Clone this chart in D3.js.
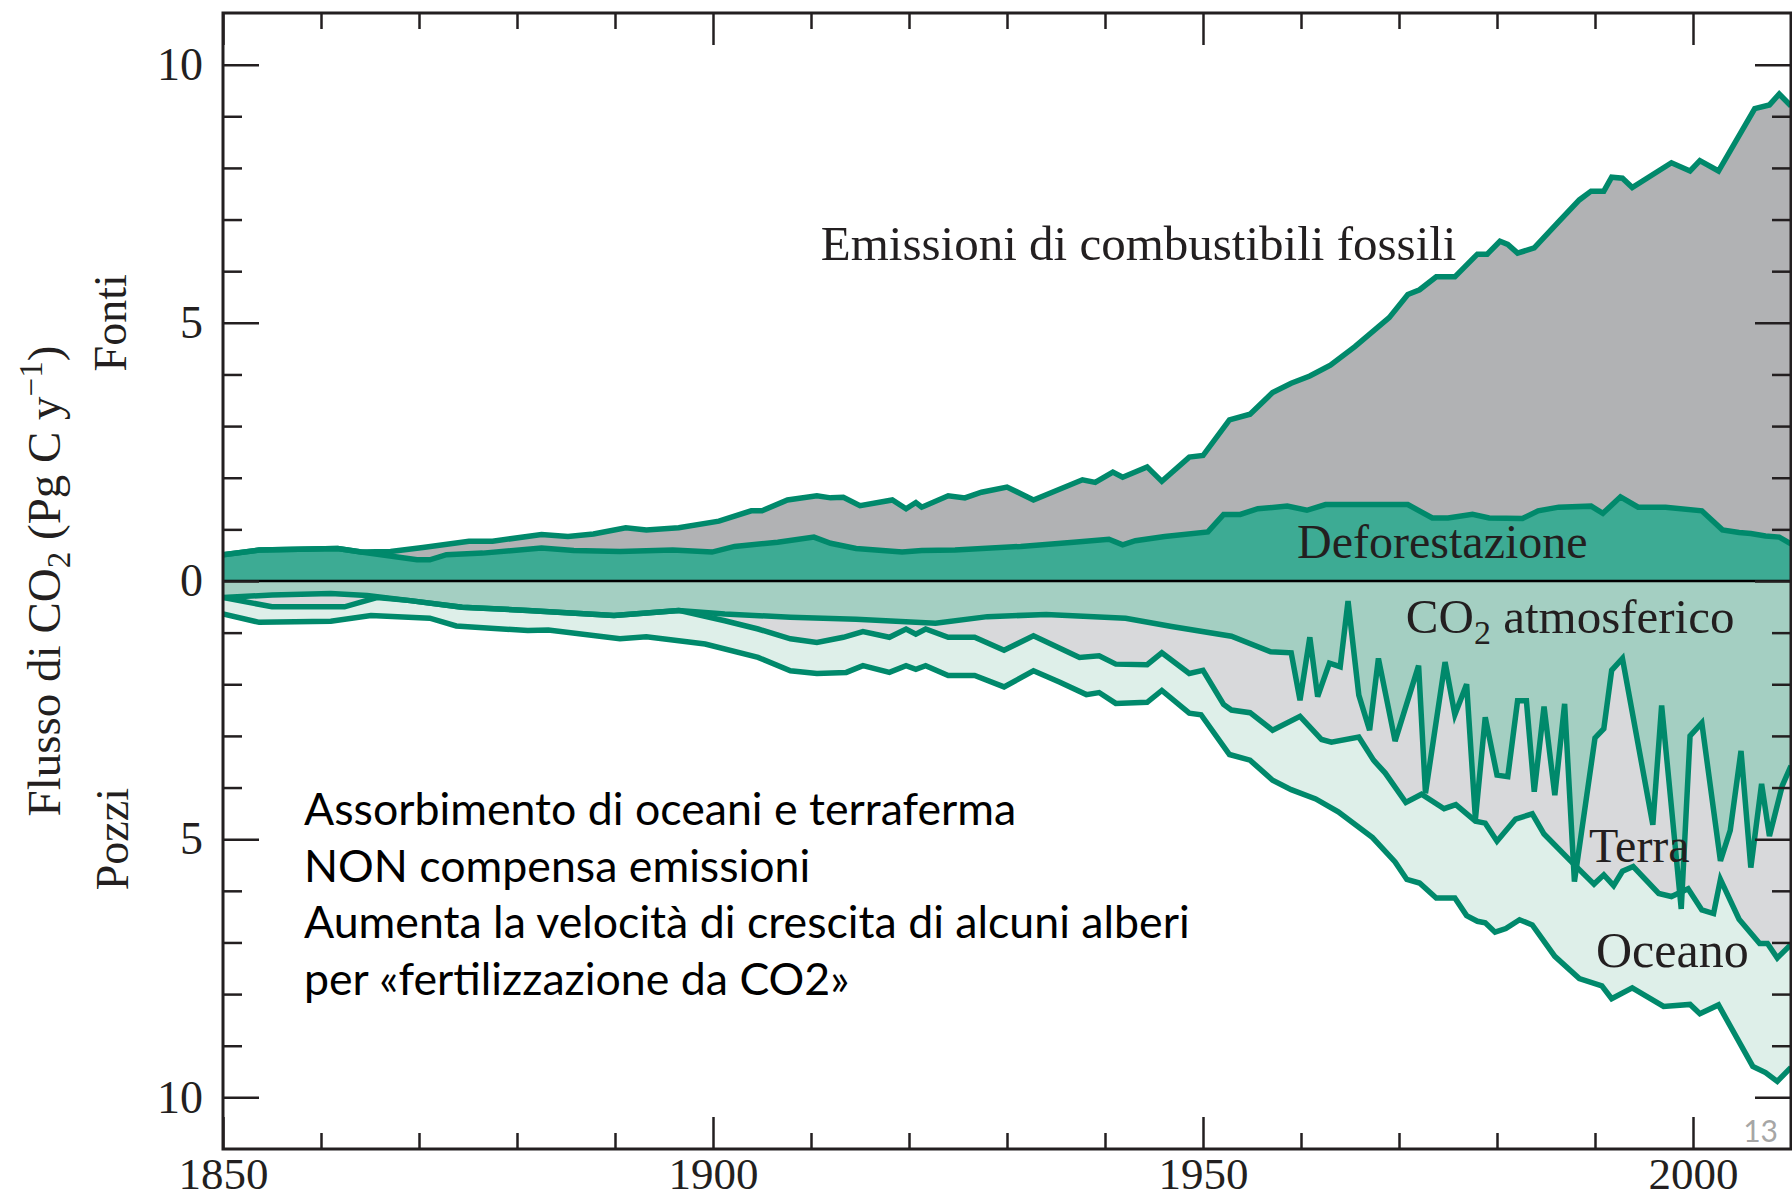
<!DOCTYPE html>
<html>
<head>
<meta charset="utf-8">
<script src="https://cdn.jsdelivr.net/npm/d3@7"></script>
<style>
    html, body { margin: 0; padding: 0; background: #fff; }
    svg { display: block; }
    .serif { font-family: "Liberation Serif", "Times New Roman", serif; fill: #231f20; }
    .sans { font-family: Lato, "Open Sans", sans-serif; fill: #000; }
</style>
</head>
<body>
<div id="chart"></div>
<script>
// [year, Pg C / y]; sinks are negative
var totalSources = [
    [1850, 0.51], [1853.7, 0.60], [1861.7, 0.63], [1864.1, 0.56], [1867.1, 0.57], [1870.4, 0.65],
    [1875.1, 0.77], [1877.5, 0.77], [1882.5, 0.90], [1885.2, 0.86], [1887.8, 0.91], [1891.1, 1.03],
    [1893.2, 0.99], [1896.5, 1.03], [1900.6, 1.16], [1903.9, 1.36], [1905, 1.36], [1907.6, 1.57],
    [1910.6, 1.65], [1912, 1.61], [1913.3, 1.62], [1915, 1.46], [1918.3, 1.57], [1919.7, 1.40],
    [1920.7, 1.52], [1921.3, 1.43], [1924, 1.65], [1925.7, 1.61], [1927.4, 1.72], [1930, 1.82],
    [1932.7, 1.57], [1937.7, 1.96], [1939, 1.91], [1940.8, 2.11], [1941.8, 2.01], [1944.3, 2.21],
    [1945.8, 1.93], [1948.6, 2.40], [1950, 2.43], [1952.7, 3.12], [1954.8, 3.23], [1957.1, 3.65],
    [1959, 3.83], [1960.9, 3.97], [1963, 4.18], [1965.5, 4.54], [1969, 5.10], [1970.9, 5.55],
    [1972.1, 5.64], [1973.8, 5.89], [1975.7, 5.89], [1978, 6.33], [1979, 6.33], [1980.3, 6.58],
    [1981.1, 6.52], [1982.1, 6.35], [1983.8, 6.45], [1986.3, 6.96], [1988.4, 7.38], [1989.6, 7.55],
    [1990.9, 7.55], [1991.7, 7.82], [1992.8, 7.80], [1993.8, 7.62], [1997.8, 8.10], [1999.7, 7.94],
    [2000.7, 8.14], [2002.6, 7.94], [2006.3, 9.15], [2007.8, 9.22], [2008.8, 9.43], [2010, 9.20]
];

var deforestation = [
    [1850, 0.51], [1853.7, 0.60], [1861.7, 0.63], [1864.1, 0.56], [1869.8, 0.41], [1871.1, 0.41],
    [1872.8, 0.51], [1876.5, 0.54], [1882.5, 0.64], [1885.8, 0.59], [1890.5, 0.57], [1895.9, 0.60],
    [1899.9, 0.56], [1902.2, 0.67], [1906.6, 0.75], [1910.3, 0.85], [1912, 0.73], [1914.6, 0.63],
    [1919.3, 0.56], [1921.3, 0.59], [1924.7, 0.60], [1931.4, 0.67], [1936.8, 0.75], [1940.4, 0.81],
    [1941.8, 0.70], [1943.1, 0.78], [1946.1, 0.86], [1950.5, 0.95], [1952.1, 1.29], [1953.8, 1.29],
    [1955.6, 1.40], [1958.6, 1.45], [1960.6, 1.37], [1962.5, 1.48], [1970.9, 1.48], [1973.4, 1.22],
    [1975, 1.22], [1977.5, 1.29], [1979.2, 1.22], [1982.6, 1.21], [1984.2, 1.36], [1986.3, 1.43],
    [1989.6, 1.45], [1990.8, 1.31], [1992.6, 1.63], [1994.4, 1.43], [1997.2, 1.43], [2000.9, 1.36],
    [2003, 0.99], [2004.7, 0.94], [2005.9, 0.92], [2007.4, 0.87], [2008.8, 0.85], [2010, 0.72]
];

var atmosphere = [
    [1850, -0.32], [1855, -0.27], [1861, -0.24], [1864.7, -0.28], [1869.1, -0.38], [1874.4, -0.51],
    [1881.1, -0.57], [1889.9, -0.67], [1896.5, -0.57], [1901.2, -0.64], [1907.9, -0.70], [1914.6, -0.74],
    [1922.7, -0.82], [1928, -0.69], [1934, -0.65], [1942.1, -0.72], [1946.8, -0.88], [1952.9, -1.07],
    [1956.9, -1.37], [1959, -1.39], [1959.9, -2.31], [1960.9, -1.09], [1961.7, -2.24], [1962.9, -1.59],
    [1964, -1.66], [1964.8, -0.39], [1965.9, -2.21], [1967, -2.89], [1967.9, -1.50], [1969.6, -3.10],
    [1972, -1.64], [1972.7, -4.11], [1974.7, -1.57], [1975.7, -2.59], [1976.9, -2.00], [1977.8, -4.61],
    [1978.8, -2.64], [1980, -3.76], [1981.1, -3.79], [1982.1, -2.32], [1983, -2.32], [1983.8, -4.08],
    [1984.8, -2.43], [1985.9, -4.15], [1986.9, -2.38], [1987.9, -5.82], [1990, -3.04], [1990.9, -2.86],
    [1991.7, -1.73], [1992.8, -1.50], [1995.9, -4.72], [1996.8, -2.41], [1998.8, -6.35], [1999.7, -3.00],
    [2000.9, -2.75], [2002.8, -5.42], [2003.8, -4.83], [2004.9, -3.29], [2005.9, -5.55], [2007, -3.93],
    [2007.8, -4.94], [2009.1, -3.97], [2010, -3.58]
];

// lower edge of the land band (atmosphere + land)
var landBoundary = [
    [1850, -0.32], [1855, -0.50], [1862.4, -0.50], [1865.7, -0.32], [1869.1, -0.38], [1874.4, -0.51],
    [1881.1, -0.57], [1889.9, -0.67], [1896.5, -0.57], [1901.2, -0.77], [1904.6, -0.93], [1907.9, -1.12],
    [1910.6, -1.19], [1913.3, -1.09], [1915.3, -0.98], [1918, -1.09], [1919.7, -0.93], [1920.7, -1.03],
    [1921.7, -0.93], [1924, -1.09], [1926.7, -1.09], [1929.7, -1.34], [1932.7, -1.06], [1937.4, -1.48],
    [1939.4, -1.45], [1941.1, -1.61], [1944.3, -1.62], [1945.8, -1.39], [1948.6, -1.79], [1950, -1.73],
    [1952.1, -2.39], [1952.9, -2.50], [1954.8, -2.55], [1957.1, -2.89], [1959.9, -2.62], [1962.1, -3.07],
    [1963.1, -3.12], [1965.9, -3.02], [1967.4, -3.47], [1968.6, -3.72], [1970.7, -4.29], [1972.3, -4.13],
    [1974.6, -4.41], [1975.8, -4.33], [1977.8, -4.65], [1978.8, -4.69], [1980, -5.04], [1981.9, -4.61],
    [1983.6, -4.51], [1984.8, -4.90], [1987.6, -5.44], [1989.9, -5.87], [1990.9, -5.69], [1991.9, -5.90],
    [1992.8, -5.62], [1993.9, -5.53], [1996.5, -6.05], [1997.8, -6.11], [1999.5, -5.96], [2000.9, -6.37],
    [2002.1, -6.44], [2002.8, -5.78], [2004.7, -6.55], [2006.8, -7.02], [2007.6, -7.02], [2008.6, -7.30],
    [2010, -7.04]
];

// lower edge of the ocean band (all sinks)
var oceanBoundary = [
    [1850, -0.64], [1853.7, -0.80], [1861, -0.78], [1865.1, -0.67], [1871.1, -0.72], [1873.8, -0.87],
    [1881.1, -0.96], [1883.2, -0.95], [1890.5, -1.12], [1893.2, -1.08], [1899.2, -1.22], [1904.6, -1.48],
    [1907.9, -1.74], [1910.6, -1.79], [1913.6, -1.77], [1915.3, -1.64], [1918, -1.77], [1919.7, -1.64],
    [1920.7, -1.71], [1921.7, -1.64], [1924, -1.83], [1926.7, -1.83], [1929.7, -2.05], [1932.7, -1.74],
    [1935.4, -1.96], [1938.1, -2.20], [1939.4, -2.16], [1941.1, -2.37], [1944.3, -2.35], [1945.8, -2.12],
    [1948.6, -2.56], [1949.8, -2.59], [1952.7, -3.36], [1954.8, -3.47], [1957.1, -3.86], [1959, -4.04],
    [1961.5, -4.22], [1963.8, -4.47], [1967.3, -4.97], [1969.6, -5.44], [1970.8, -5.78], [1972.1, -5.85],
    [1973.8, -6.14], [1975.7, -6.14], [1976.9, -6.48], [1978, -6.59], [1978.8, -6.62], [1979.8, -6.80],
    [1980.9, -6.73], [1982.3, -6.56], [1983.6, -6.66], [1985.9, -7.27], [1988.4, -7.70], [1990.7, -7.84],
    [1991.7, -8.09], [1993.8, -7.88], [1997, -8.24], [1999.7, -8.20], [2000.7, -8.38], [2002.6, -8.21],
    [2006.1, -9.40], [2007.4, -9.52], [2008.6, -9.69], [2010, -9.42]
];

var yearTicks = [1850, 1900, 1950, 2000];
var fluxTicks = [10, 5, 0, -5, -10];

var noteLines = [
    "Assorbimento di oceani e terraferma",
    "NON compensa emissioni",
    "Aumenta la velocità di crescita di alcuni alberi",
    "per «fertilizzazione da CO2»"
];

var width = 1792, height = 1200;
var plot = { left: 223, top: 13, right: 1791, bottom: 1149 };
var ink = "#231f20";
var lineColor = "#00896b";

var svg = d3.select("#chart")
    .append("svg")
    .attr("width", width)
    .attr("height", height);

var x = d3.scaleLinear().domain([1850, 2010]).range([plot.left, plot.right]);
var y = d3.scaleLinear().domain([-11, 11]).range([plot.bottom, plot.top]);

svg.append("clipPath")
    .attr("id", "plot-clip")
    .append("rect")
    .attr("x", plot.left)
    .attr("y", plot.top)
    .attr("width", plot.right - plot.left)
    .attr("height", plot.bottom - plot.top);

var area = d3.area()
    .x(function (d) { return x(d[0]); })
    .y0(y(0))
    .y1(function (d) { return y(d[1]); });

var line = d3.line()
    .x(function (d) { return x(d[0]); })
    .y(function (d) { return y(d[1]); });

var marks = svg.append("g").attr("clip-path", "url(#plot-clip)");

// painter's order: each band is drawn from zero, the next one covers it
var bands = [
    { data: totalSources, fill: "#b1b2b4" },
    { data: deforestation, fill: "#3dab94" },
    { data: oceanBoundary, fill: "#deefe9" },
    { data: landBoundary, fill: "#d8d9db" },
    { data: atmosphere, fill: "#a4cfc2" }
];

marks.selectAll(".band")
    .data(bands)
    .enter()
    .append("path")
    .attr("class", "band")
    .attr("fill", function (d) { return d.fill; })
    .attr("d", function (d) { return area(d.data); });

// zero line
marks.append("line")
    .attr("x1", plot.left)
    .attr("x2", plot.right)
    .attr("y1", y(0))
    .attr("y2", y(0))
    .attr("stroke", "#000")
    .attr("stroke-width", 2.5);

marks.selectAll(".edge")
    .data(bands)
    .enter()
    .append("path")
    .attr("class", "edge")
    .attr("fill", "none")
    .attr("stroke", lineColor)
    .attr("stroke-width", 5.5)
    .attr("stroke-linejoin", "miter")
    .attr("d", function (d) { return line(d.data); });

/// AXES /////////////////////////////////

function styleTicks(g) {
    g.select(".domain").remove();
    g.selectAll(".tick line").attr("stroke", ink).attr("stroke-width", 2.5);
    g.selectAll("text")
        .attr("class", "serif")
        .attr("fill", ink)
        .style("font-size", "46px");
    g.attr("font-family", null).attr("font-size", null);
}

var minorFlux = d3.range(-10, 11).filter(function (d) { return d % 5 !== 0; });
var minorYears = d3.range(1860, 2010, 10).filter(function (d) { return d % 50 !== 0; });

// left
svg.append("g")
    .attr("transform", "translate(" + plot.left + ",0)")
    .call(d3.axisLeft(y).tickValues(minorFlux).tickSize(-19).tickFormat(""))
    .call(styleTicks);
svg.append("g")
    .attr("transform", "translate(" + plot.left + ",0)")
    .call(d3.axisLeft(y).tickValues(fluxTicks).tickSize(-36).tickPadding(20)
        .tickFormat(function (d) { return Math.abs(d); }))
    .call(styleTicks);

// right
svg.append("g")
    .attr("transform", "translate(" + plot.right + ",0)")
    .call(d3.axisRight(y).tickValues(minorFlux).tickSize(-19).tickFormat(""))
    .call(styleTicks);
svg.append("g")
    .attr("transform", "translate(" + plot.right + ",0)")
    .call(d3.axisRight(y).tickValues(fluxTicks).tickSize(-36).tickFormat(""))
    .call(styleTicks);

// bottom
svg.append("g")
    .attr("transform", "translate(0," + plot.bottom + ")")
    .call(d3.axisBottom(x).tickValues(minorYears).tickSize(-16).tickFormat(""))
    .call(styleTicks);
svg.append("g")
    .attr("class", "year-axis")
    .attr("transform", "translate(0," + plot.bottom + ")")
    .call(d3.axisBottom(x).tickValues(yearTicks).tickSize(-32).tickPadding(8).tickFormat(d3.format("d")))
    .call(styleTicks);
svg.selectAll(".year-axis text").style("font-size", "45px");

// top
svg.append("g")
    .attr("transform", "translate(0," + plot.top + ")")
    .call(d3.axisTop(x).tickValues(minorYears).tickSize(-16).tickFormat(""))
    .call(styleTicks);
svg.append("g")
    .attr("transform", "translate(0," + plot.top + ")")
    .call(d3.axisTop(x).tickValues(yearTicks).tickSize(-32).tickFormat(""))
    .call(styleTicks);

// frame
svg.append("rect")
    .attr("x", plot.left)
    .attr("y", plot.top)
    .attr("width", plot.right - plot.left)
    .attr("height", plot.bottom - plot.top)
    .attr("fill", "none")
    .attr("stroke", ink)
    .attr("stroke-width", 3);

/// LABELS /////////////////////////////////

// y title with CO2 subscript and y^-1 superscript
var title = svg.append("text")
    .attr("class", "serif")
    .attr("transform", "translate(60," + y(0) + ") rotate(-90)")
    .attr("text-anchor", "middle")
    .style("font-size", "47px");
title.append("tspan").text("Flusso di CO");
title.append("tspan").attr("dy", 10).style("font-size", "33px").text("2");
title.append("tspan").attr("dy", -10).text(" (Pg C y");
title.append("tspan").attr("dy", -18).style("font-size", "33px").text("\u22121");
title.append("tspan").attr("dy", 18).text(")");

svg.append("text")
    .attr("class", "serif")
    .attr("transform", "translate(126," + y(5) + ") rotate(-90)")
    .attr("text-anchor", "middle")
    .style("font-size", "46px")
    .text("Fonti");

svg.append("text")
    .attr("class", "serif")
    .attr("transform", "translate(128," + y(-5) + ") rotate(-90)")
    .attr("text-anchor", "middle")
    .style("font-size", "46px")
    .text("Pozzi");

var seriesLabels = [
    { text: "Emissioni di combustibili fossili", year: 1911.0, value: 6.22, size: 49 },
    { text: "Deforestazione", year: 1959.6, value: 0.45, size: 48 },
    { text: "Terra", year: 1989.4, value: -5.45, size: 48 },
    { text: "Oceano", year: 1990.1, value: -7.48, size: 50 }
];

svg.selectAll(".series-label")
    .data(seriesLabels)
    .enter()
    .append("text")
    .attr("class", "serif series-label")
    .attr("x", function (d) { return x(d.year); })
    .attr("y", function (d) { return y(d.value); })
    .style("font-size", function (d) { return d.size + "px"; })
    .text(function (d) { return d.text; });

var atmLabel = svg.append("text")
    .attr("class", "serif")
    .attr("x", x(1970.7))
    .attr("y", y(-1.0))
    .style("font-size", "49px");
atmLabel.append("tspan").text("CO");
atmLabel.append("tspan").attr("dy", 11).style("font-size", "34px").text("2");
atmLabel.append("tspan").attr("dy", -11).text(" atmosferico");

// note block, sized so the longest line spans the same width as in the slide
var note = svg.append("g").attr("class", "note");
note.selectAll("text")
    .data(noteLines)
    .enter()
    .append("text")
    .attr("class", "sans")
    .attr("x", 304)
    .attr("y", function (d, i) { return 825 + i * 56.7; })
    .style("font-size", "44px")
    .text(function (d) { return d; });

var longest = note.selectAll("text").nodes()[2].getComputedTextLength();
note.selectAll("text").style("font-size", (44 * 886 / longest) + "px");

// slide number
svg.append("text")
    .attr("class", "sans")
    .attr("x", 1778)
    .attr("y", 1142)
    .attr("text-anchor", "end")
    .style("fill", "#a6a6a6")
    .style("font-size", "30px")
    .text("13");
</script>
</body>
</html>
